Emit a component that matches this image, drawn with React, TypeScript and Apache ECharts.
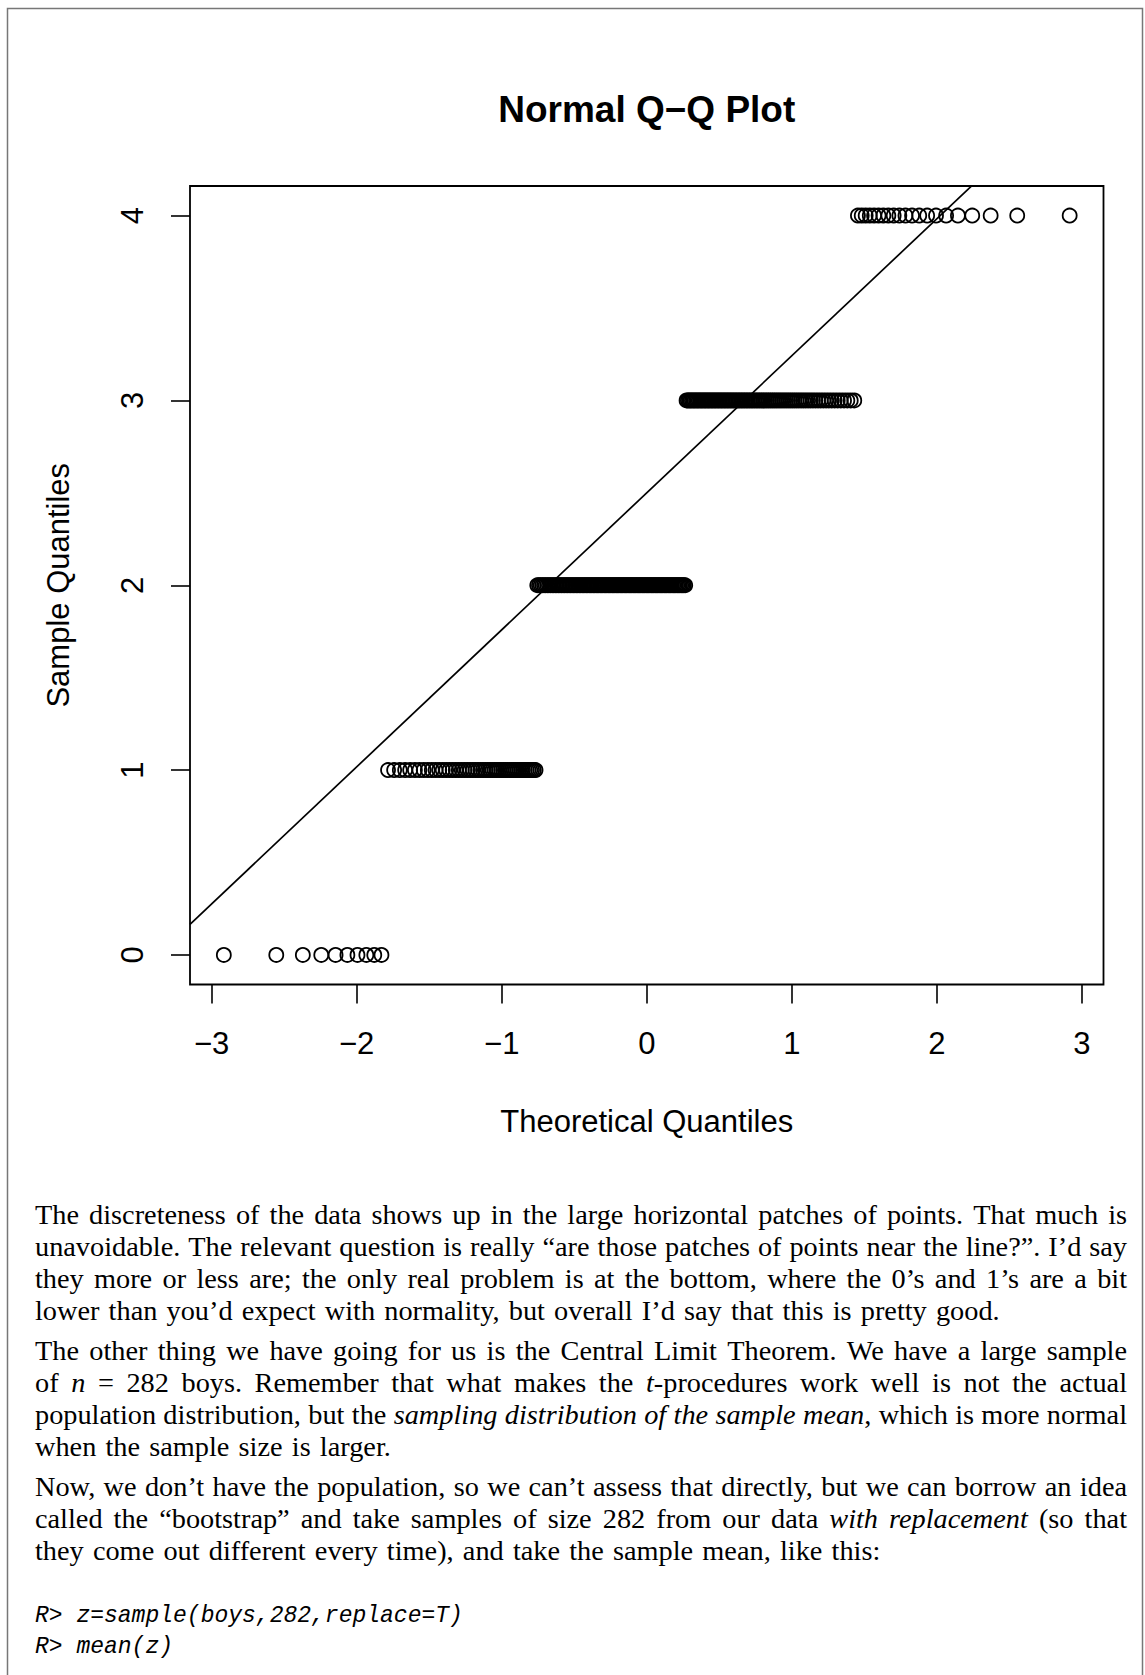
import React, { useEffect, useRef } from "react";
import * as echarts from "echarts";

// ---------- data ----------
const sampleValues = [0, 1, 2, 3, 4];
const sampleCounts = [10, 53, 108, 90, 21];
const xTickValues = [-3, -2, -1, 0, 1, 2, 3];
const xTickLabels = ["\u22123", "\u22122", "\u22121", "0", "1", "2", "3"];
const yTickValues = [0, 1, 2, 3, 4];
const yTickLabels = ["0", "1", "2", "3", "4"];

const titleText = "Normal Q\u2212Q Plot";
const xAxisTitle = "Theoretical Quantiles";
const yAxisTitle = "Sample Quantiles";

const paragraphs: string[][] = [
  [
    "The discreteness of the data shows up in the large horizontal patches of points. That much is",
    "unavoidable. The relevant question is really \u201care those patches of points near the line?\u201d. I\u2019d say",
    "they more or less are; the only real problem is at the bottom, where the 0\u2019s and 1\u2019s are a bit",
    "lower than you\u2019d expect with normality, but overall I\u2019d say that this is pretty good.",
  ],
  [
    "The other thing we have going for us is the Central Limit Theorem. We have a large sample",
    "of *n* = 282 boys. Remember that what makes the *t*-procedures work well is not the actual",
    "population distribution, but the *sampling distribution of the sample mean*, which is more normal",
    "when the sample size is larger.",
  ],
  [
    "Now, we don\u2019t have the population, so we can\u2019t assess that directly, but we can borrow an idea",
    "called the \u201cbootstrap\u201d and take samples of size 282 from our data *with replacement* (so that",
    "they come out different every time), and take the sample mean, like this:",
  ],
];
const codeLines = ["R> z=sample(boys,282,replace=T)", "R> mean(z)"];

// ---------- stats helpers ----------
function qnorm(p: number): number {
  const a = [-3.969683028665376e1, 2.209460984245205e2, -2.759285104469687e2, 1.38357751867269e2, -3.066479806614716e1, 2.506628277459239];
  const b = [-5.447609879822406e1, 1.615858368580409e2, -1.556989798598866e2, 6.680131188771972e1, -1.328068155288572e1];
  const c = [-7.784894002430293e-3, -3.223964580411365e-1, -2.400758277161838, -2.549671010229435, 4.374664141464968, 2.938163982698783];
  const d = [7.784695709041462e-3, 3.224671290700398e-1, 2.445134137142996, 3.754408661907416];
  const pl = 0.02425;
  if (p < pl) {
    const q = Math.sqrt(-2 * Math.log(p));
    return (((((c[0] * q + c[1]) * q + c[2]) * q + c[3]) * q + c[4]) * q + c[5]) / ((((d[0] * q + d[1]) * q + d[2]) * q + d[3]) * q + 1);
  }
  if (p <= 1 - pl) {
    const q = p - 0.5;
    const r = q * q;
    return ((((((a[0] * r + a[1]) * r + a[2]) * r + a[3]) * r + a[4]) * r + a[5]) * q) / (((((b[0] * r + b[1]) * r + b[2]) * r + b[3]) * r + b[4]) * r + 1);
  }
  const q = Math.sqrt(-2 * Math.log(1 - p));
  return -(((((c[0] * q + c[1]) * q + c[2]) * q + c[3]) * q + c[4]) * q + c[5]) / ((((d[0] * q + d[1]) * q + d[2]) * q + d[3]) * q + 1);
}

function quantile7(sorted: number[], prob: number): number {
  const h = (sorted.length - 1) * prob;
  const lo = Math.floor(h);
  const hi = Math.min(lo + 1, sorted.length - 1);
  return sorted[lo] + (h - lo) * (sorted[hi] - sorted[lo]);
}

function buildQQ() {
  const sample: number[] = [];
  sampleValues.forEach((v, i) => {
    for (let k = 0; k < sampleCounts[i]; k++) sample.push(v);
  });
  sample.sort((u, w) => u - w);
  const n = sample.length;
  const a = n <= 10 ? 3 / 8 : 0.5;
  const pts: number[][] = sample.map((v, i) => [qnorm((i + 1 - a) / (n + 1 - 2 * a)), v]);
  const xs = pts.map((p) => p[0]);
  const xMin = Math.min(...xs);
  const xMax = Math.max(...xs);
  const yMin = Math.min(...sample);
  const yMax = Math.max(...sample);
  const xPad = 0.04 * (xMax - xMin);
  const yPad = 0.04 * (yMax - yMin);
  const q1 = quantile7(sample, 0.25);
  const q3 = quantile7(sample, 0.75);
  const t1 = qnorm(0.25);
  const t3 = qnorm(0.75);
  const slope = (q3 - q1) / (t3 - t1);
  const intercept = q1 - slope * t1;
  const xl = [xMin - xPad, xMax + xPad];
  const yl = [yMin - yPad, yMax + yPad];
  const line = [
    [xl[0], intercept + slope * xl[0]],
    [xl[1], intercept + slope * xl[1]],
  ];
  return { pts, xl, yl, line };
}

// ---------- layout constants ----------
const W = 1145;
const H = 1675;
const SANS = '"Liberation Sans", Arial, Helvetica, sans-serif';
const SERIF = '"Liberation Serif", "Times New Roman", serif';
const MONO = '"Liberation Mono", "DejaVu Sans Mono", monospace';
const PLOT = { left: 190, top: 186, width: 913.5, height: 798.5 };
const TEXT_LEFT = 35;
const TEXT_RIGHT = 1127;
const TEXT_SIZE = 28.3;
const LINE_STEP = 32.05;
const PARA_TOPS = [1214, 1350, 1486];
const CODE_TOPS = [1616, 1647];
const CODE_SIZE = 23;

function buildTextGraphics(): any[] {
  const canvas = document.createElement("canvas");
  const ctx = canvas.getContext("2d")!;
  const measure = (t: string, italic: boolean) => {
    ctx.font = `${italic ? "italic " : ""}${TEXT_SIZE}px ${SERIF}`;
    return ctx.measureText(t).width;
  };
  const els: any[] = [];
  paragraphs.forEach((lines, pi) => {
    lines.forEach((line, li) => {
      const y = PARA_TOPS[pi] + li * LINE_STEP;
      const justify = li < lines.length - 1;
      let italic = false;
      const words = line.split(" ").map((w) => {
        const segs: { text: string; italic: boolean; w: number }[] = [];
        let buf = "";
        for (const ch of w) {
          if (ch === "*") {
            if (buf) segs.push({ text: buf, italic, w: 0 });
            buf = "";
            italic = !italic;
          } else buf += ch;
        }
        if (buf) segs.push({ text: buf, italic, w: 0 });
        segs.forEach((s) => (s.w = measure(s.text, s.italic)));
        return { segs, w: segs.reduce((s, g) => s + g.w, 0) };
      });
      const total = words.reduce((s, w) => s + w.w, 0);
      const gap = justify ? (TEXT_RIGHT - TEXT_LEFT - total) / (words.length - 1) : measure(" ", false) * 1.3;
      let x = TEXT_LEFT;
      words.forEach((wd) => {
        wd.segs.forEach((s) => {
          els.push({
            type: "text",
            x,
            y,
            silent: true,
            style: {
              text: s.text,
              fontSize: TEXT_SIZE,
              fontFamily: SERIF,
              fontStyle: s.italic ? "italic" : "normal",
              fill: "#000",
              textAlign: "left",
              textVerticalAlign: "middle",
            },
          });
          x += s.w;
        });
        x += gap;
      });
    });
  });
  codeLines.forEach((c, i) => {
    els.push({
      type: "text",
      x: TEXT_LEFT,
      y: CODE_TOPS[i],
      silent: true,
      style: {
        text: c,
        fontSize: CODE_SIZE,
        fontFamily: MONO,
        fontStyle: "italic",
        fill: "#000",
        textAlign: "left",
        textVerticalAlign: "middle",
      },
    });
  });
  return els;
}

export default function App() {
  const ref = useRef<HTMLDivElement>(null);
  useEffect(() => {
    document.body.style.margin = "0";
    document.body.style.overflow = "hidden";
    if (!ref.current) return;
    const chart = echarts.init(ref.current, null, { renderer: "svg" });
    const { pts, xl, yl, line } = buildQQ();
    const option: any = {
      animation: false,
      backgroundColor: "#fff",
      title: {
        text: titleText,
        left: PLOT.left + PLOT.width / 2,
        top: 109.5,
        textAlign: "center",
        textVerticalAlign: "middle",
        padding: 0,
        textStyle: { fontFamily: SANS, fontSize: 37, fontWeight: "bold", color: "#000" },
      },
      grid: {
        left: PLOT.left,
        top: PLOT.top,
        width: PLOT.width,
        height: PLOT.height,
        show: true,
        borderColor: "#000",
        borderWidth: 1.8,
        backgroundColor: "transparent",
        containLabel: false,
        outerBoundsMode: "none",
      },
      xAxis: {
        type: "value",
        min: xl[0],
        max: xl[1],
        name: xAxisTitle,
        nameLocation: "middle",
        nameGap: 121,
        nameTextStyle: { fontFamily: SANS, fontSize: 31, color: "#000" },
        axisLine: { show: false, onZero: false },
        splitLine: { show: false },
        axisTick: { show: true, inside: false, length: 19, customValues: xTickValues, lineStyle: { color: "#000", width: 1.6 } },
        axisLabel: {
          customValues: xTickValues,
          margin: 43,
          fontFamily: SANS,
          fontSize: 31,
          color: "#000",
          formatter: (v: number) => xTickLabels[xTickValues.indexOf(Math.round(v))] ?? "",
        },
      },
      yAxis: {
        type: "value",
        min: yl[0],
        max: yl[1],
        name: yAxisTitle,
        nameLocation: "middle",
        nameGap: 116,
        nameRotate: 90,
        nameTextStyle: { fontFamily: SANS, fontSize: 31, color: "#000" },
        axisLine: { show: false, onZero: false },
        splitLine: { show: false },
        axisTick: { show: true, inside: false, length: 19, customValues: yTickValues, lineStyle: { color: "#000", width: 1.6 } },
        axisLabel: {
          customValues: yTickValues,
          rotate: 90,
          margin: 42,
          fontFamily: SANS,
          fontSize: 31,
          color: "#000",
          formatter: (v: number) => yTickLabels[yTickValues.indexOf(Math.round(v))] ?? "",
        },
      },
      series: [
        {
          type: "scatter",
          data: pts,
          symbol: "circle",
          symbolSize: 14,
          silent: true,
          itemStyle: { color: "rgba(0,0,0,0)", borderColor: "#000", borderWidth: 1.8, opacity: 1 },
        },
        {
          type: "line",
          data: line,
          symbol: "none",
          clip: true,
          silent: true,
          lineStyle: { color: "#000", width: 1.7 },
        },
      ],
      graphic: [
        {
          type: "rect",
          silent: true,
          shape: { x: 7.5, y: 8.5, width: 1135, height: 1700 },
          style: { fill: "none", stroke: "#777", lineWidth: 1.5 },
        },
        ...buildTextGraphics(),
      ],
    };
    chart.setOption(option);
    return () => chart.dispose();
  }, []);
  return <div ref={ref} style={{ position: "absolute", left: 0, top: 0, width: W, height: H }} />;
}
